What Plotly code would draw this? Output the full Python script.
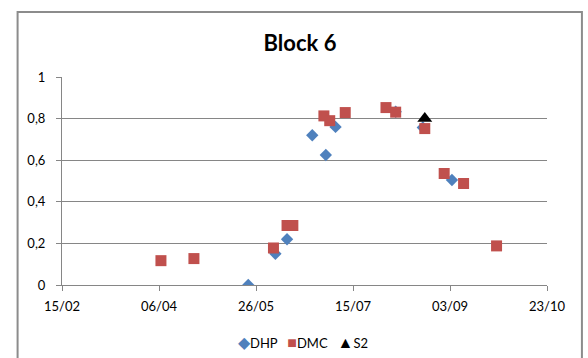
import plotly.graph_objects as go

# Sampling dates and values per series
dhp_dates = ["2013-05-22", "2013-06-05", "2013-06-11", "2013-06-24", "2013-07-01",
             "2013-07-06", "2013-08-06", "2013-08-20", "2013-09-04"]
dhp_values = [0.0, 0.15, 0.22, 0.72, 0.625, 0.76, 0.833, 0.757, 0.505]

dmc_dates = ["2013-04-07", "2013-04-24", "2013-06-04", "2013-06-11", "2013-06-14",
             "2013-06-30", "2013-07-03", "2013-07-11", "2013-08-01", "2013-08-06",
             "2013-08-21", "2013-08-31", "2013-09-10", "2013-09-27"]
dmc_values = [0.117, 0.127, 0.178, 0.286, 0.286, 0.813, 0.79, 0.829, 0.853, 0.831,
              0.752, 0.536, 0.488, 0.188]

s2_dates = ["2013-08-21"]
s2_values = [0.80]

x_ticks = ["2013-02-15", "2013-04-06", "2013-05-26", "2013-07-15", "2013-09-03", "2013-10-23"]
y_ticks = [0, 0.2, 0.4, 0.6, 0.8, 1]

FONT = "Lato"
GRID = "#868686"

series = [
    ("DHP", dhp_dates, dhp_values, "diamond", 9.5, "#4F81BD", "◆"),
    ("DMC", dmc_dates, dmc_values, "square", 11, "#C0504D", "■"),
    ("S2", s2_dates, s2_values, "triangle-up", 13, "#000000", "▲"),
]

fig = go.Figure()
for name, xs, ys, sym, size, color, _ in series:
    fig.add_trace(go.Scatter(x=xs, y=ys, mode="markers", name=name,
                             marker=dict(symbol=sym, size=size, color=color)))

L, R, T, B = 61.5, 547.5, 77, 285
W, H = 588, 358
pw, ph = R - L, B - T

# Compact key row under the axis: coloured glyph followed by the series name
key_text = "&nbsp;&nbsp;&nbsp;".join(
    f"<span style='color:{color};font-size:16px'>{glyph}</span>{name}"
    for name, _, _, _, _, color, glyph in series
)

fig.update_layout(
    width=W, height=H,
    margin=dict(l=L, r=W - R, t=T, b=H - B, pad=0),
    paper_bgcolor="white", plot_bgcolor="white",
    separators=", ",
    font=dict(family=FONT, size=13, color="#000000"),
    title=dict(text="<b>Block 6</b>", x=(300 - L) / pw, xref="paper", xanchor="center",
               y=1 - 43 / H, yanchor="middle", font=dict(family=FONT, size=22)),
    showlegend=False,
    annotations=[dict(text=key_text, xref="paper", yref="paper",
                      x=(303 - L) / pw, y=(B - 341) / ph,
                      xanchor="center", yanchor="middle", showarrow=False,
                      font=dict(family=FONT, size=13, color="#000000"))],
    shapes=[dict(type="rect", xref="paper", yref="paper",
                 x0=(17 - L) / pw, x1=(582.5 - L) / pw,
                 y0=(B - 370) / ph, y1=(B - 12) / ph,
                 line=dict(color="#8c8c8c", width=2), layer="below")],
)

fig.update_xaxes(
    type="date", range=[x_ticks[0], x_ticks[-1]],
    tickvals=x_ticks, tickformat="%d/%m",
    showgrid=False, zeroline=False,
    showline=True, linecolor=GRID, linewidth=1,
    ticks="outside", ticklen=5, tickcolor=GRID,
    ticklabelstandoff=4,
)
fig.update_yaxes(
    range=[0, 1], tickvals=y_ticks,
    showgrid=True, gridcolor=GRID, gridwidth=1, zeroline=False,
    showline=True, linecolor=GRID, linewidth=1,
    ticks="outside", ticklen=5, tickcolor=GRID,
    ticklabelstandoff=8,
)

fig.write_html("out.html")
